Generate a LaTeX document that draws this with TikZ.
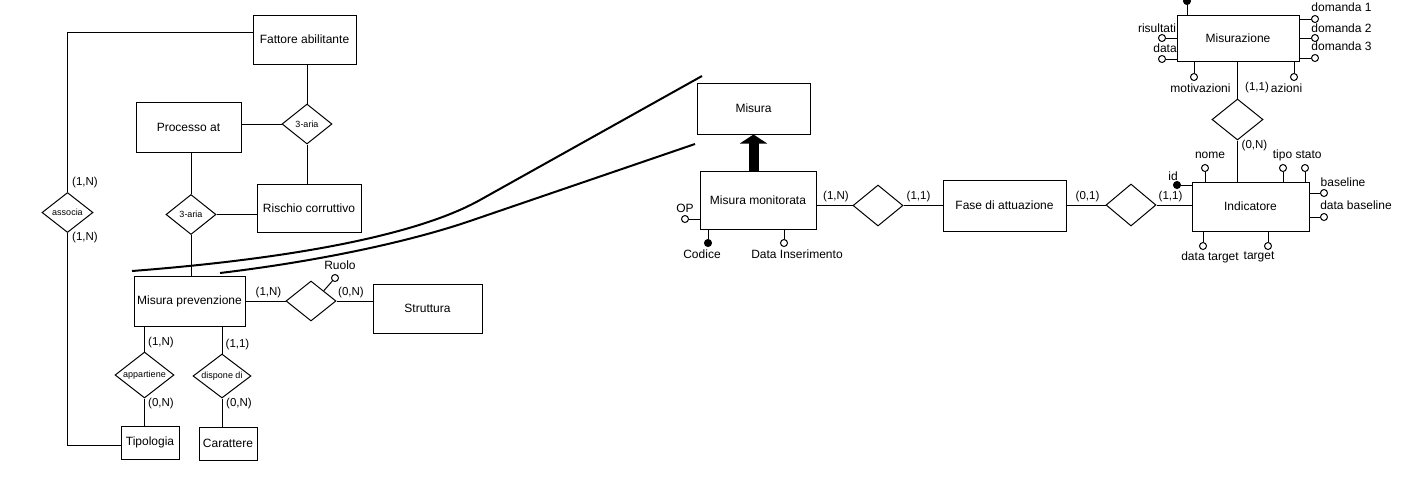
\documentclass[tikz,border=0pt]{standalone}
\usepackage{fontspec}
\setmainfont{Liberation Sans}
\usetikzlibrary{shapes.geometric,arrows.meta}
\tikzset{
 ent/.style={draw, rectangle, line width=1pt, inner sep=0pt, font=\fontsize{12}{14}\selectfont},
 rel/.style={draw, diamond, shape aspect=1.3, inner sep=0pt, line width=1pt, font=\fontsize{9}{10}\selectfont},
 attr/.style={draw, circle, fill=white, inner sep=0pt, minimum size=7pt, line width=1pt},
 keyattr/.style={attr, fill=black},
 lbl/.style={inner sep=0pt, font=\fontsize{12}{14}\selectfont},
 card/.style={inner sep=0pt, font=\fontsize{11.5}{13}\selectfont},
 conn/.style={line width=1pt},
 curveline/.style={line width=2pt, line join=round},
}
\begin{document}
\begin{tikzpicture}[x=1pt,y=-1pt]
\useasboundingbox (0,0) rectangle (1409,491);
% entities
\node[ent, minimum width=103pt, minimum height=49pt] (fattore) at (304.5,39.5) {Fattore abilitante};
\node[ent, minimum width=105pt, minimum height=50pt] (processo) at (188.5,127) {Processo at};
\node[ent, minimum width=104pt, minimum height=48pt] (rischio) at (309,208) {Rischio corruttivo};
\node[ent, minimum width=111pt, minimum height=50pt] (misprev) at (189.5,301) {Misura prevenzione};
\node[ent, minimum width=109pt, minimum height=49pt] (struttura) at (427.5,308.5) {Struttura};
\node[ent, minimum width=58pt, minimum height=33pt] (tipologia) at (150,442.5) {Tipologia};
\node[ent, minimum width=58pt, minimum height=33pt] (carattere) at (228,443.5) {Carattere};
\node[ent, minimum width=113pt, minimum height=51pt] (misura) at (753.5,108.5) {Misura};
\node[ent, minimum width=116pt, minimum height=58pt] (mismon) at (758,200) {Misura monitorata};
\node[ent, minimum width=123pt, minimum height=51pt] (fase) at (1004.5,205.5) {Fase di attuazione};
\node[ent, minimum width=117pt, minimum height=49pt] (indicatore) at (1250.5,206.5) {Indicatore};
\node[ent, minimum width=122pt, minimum height=46pt] (misurazione) at (1238,38) {Misurazione};
% relationships
\node[rel, minimum width=50pt, minimum height=40pt] (tri1) at (307,124) {3-aria};
\node[rel, minimum width=50pt, minimum height=40pt] (tri2) at (191,214.5) {3-aria};
\node[rel, minimum width=51pt, minimum height=40pt] (associa) at (67.5,212.5) {associa};
\node[rel, minimum width=50pt, minimum height=40pt] (rel1) at (311,301) {};
\node[rel, minimum width=59pt, minimum height=46pt] (app) at (144.5,375) {appartiene};
\node[rel, minimum width=58pt, minimum height=44pt] (disp) at (222,376) {dispone di};
\node[rel, minimum width=50pt, minimum height=41pt] (rel2) at (878,205.5) {};
\node[rel, minimum width=50pt, minimum height=42pt] (rel3) at (1131,205) {};
\node[rel, minimum width=51pt, minimum height=41pt] (rel4) at (1237.5,119.5) {};
% connectors
\draw[conn] (tri1.north) -- (tri1.north |- fattore.south);
\draw[conn] (tri1.south) -- (tri1.south |- rischio.north);
\draw[conn] (tri1.west) -- (tri1.west -| processo.east);
\draw[conn] (tri2.north) -- (tri2.north |- processo.south);
\draw[conn] (tri2.east) -- (tri2.east -| rischio.west);
\draw[conn] (tri2.south) -- (tri2.south |- misprev.north);
\draw[conn] (associa.north) |- ([yshift=7.5pt]fattore.west);
\draw[conn] (associa.south) |- ([yshift=-2.5pt]tipologia.west);
\draw[conn] (misprev.east) -- (rel1.west);
\draw[conn] (rel1.east) -- (rel1.east -| struttura.west);
\draw[conn] (app.north) -- (app.north |- misprev.south);
\draw[conn] (disp.north) -- (disp.north |- misprev.south);
\draw[conn] (app.south) -- (app.south |- tipologia.north);
\draw[conn] (disp.south) -- (disp.south |- carattere.north);
\draw[conn] (rel2.west) -- (rel2.west -| mismon.east);
\draw[conn] (rel2.east) -- (rel2.east -| fase.west);
\draw[conn] (rel3.west) -- (rel3.west -| fase.east);
\draw[conn] (rel3.east) -- (rel3.east -| indicatore.west);
\draw[conn] (rel4.north) -- (rel4.north |- misurazione.south);
\draw[conn] (rel4.south) -- (rel4.south |- indicatore.north);
% generalization arrow
\draw[line width=10pt, -{Triangle[width=27pt,length=9pt]}] (misura.south |- mismon.north) -- (misura.south);
% curves
\draw[curveline] (132,271) .. controls (300,258) and (420,233.6) .. (480,200) -- (702,76);
\draw[curveline] (220,273) .. controls (320,261) and (410,241.5) .. (470,221) -- (695,144);
% attributes of Misura monitorata
\node[attr] (op) at (685,219) {};
\draw[conn] (op) -- (op -| mismon.west);
\node[lbl] (opL) at (685,208) {OP};
\node[keyattr] (codice) at (708,243) {};
\draw[conn] (codice) -- (codice |- mismon.south);
\node[lbl] (codiceL) at (702,254) {Codice};
\node[attr] (datains) at (784,243) {};
\draw[conn] (datains) -- (datains |- mismon.south);
\node[lbl] (datainsL) at (797,254) {Data Inserimento};
% Ruolo
\node[attr] (ruolo) at (335,278) {};
\draw[conn] (ruolo) -- (rel1.north east);
\node[lbl] (ruoloL) at (340,265) {Ruolo};
% attributes of Indicatore
\node[keyattr] (id) at (1177,185) {};
\draw[conn] (id) -- (id -| indicatore.west);
\node[lbl] (idL) at (1173,176) {id};
\node[attr] (nome) at (1205,168) {};
\draw[conn] (nome) -- (nome |- indicatore.north);
\node[lbl] (nomeL) at (1210,155) {nome};
\node[attr] (tipo) at (1283,168) {};
\draw[conn] (tipo) -- (tipo |- indicatore.north);
\node[lbl] (tipoL) at (1282.5,155) {tipo};
\node[attr] (stato) at (1305,168) {};
\draw[conn] (stato) -- (stato |- indicatore.north);
\node[lbl] (statoL) at (1308.5,155) {stato};
\node[attr] (baseline) at (1324,193) {};
\draw[conn] (baseline) -- (baseline -| indicatore.east);
\node[lbl] (baselineL) at (1343,182) {baseline};
\node[attr] (databaseline) at (1324,217) {};
\draw[conn] (databaseline) -- (databaseline -| indicatore.east);
\node[lbl] (databaselineL) at (1356,205) {data baseline};
\node[attr] (datatarget) at (1203,246) {};
\draw[conn] (datatarget) -- (datatarget |- indicatore.south);
\node[lbl] (datatargetL) at (1210,257) {data target};
\node[attr] (target) at (1268,246) {};
\draw[conn] (target) -- (target |- indicatore.south);
\node[lbl] (targetL) at (1259,257) {target};
% attributes of Misurazione
\node[keyattr] (mtop) at (1187,1) {};
\draw[conn] (mtop) -- (mtop |- misurazione.north);
\node[attr] (risultati) at (1162,38) {};
\draw[conn] (risultati) -- (risultati -| misurazione.west);
\node[lbl] (risultatiL) at (1157,28) {risultati};
\node[attr] (data) at (1162,59) {};
\draw[conn] (data) -- (data -| misurazione.west);
\node[lbl] (dataL) at (1165,48.5) {data};
\node[attr] (d1) at (1315,19) {};
\draw[conn] (d1) -- (d1 -| misurazione.east);
\node[attr] (d2) at (1315,38) {};
\draw[conn] (d2) -- (d2 -| misurazione.east);
\node[attr] (d3) at (1315,58) {};
\draw[conn] (d3) -- (d3 -| misurazione.east);
\node[lbl] (d1L) at (1341.5,7) {domanda 1};
\node[lbl] (d2L) at (1341.5,28) {domanda 2};
\node[lbl] (d3L) at (1341.5,46) {domanda 3};
\node[attr] (motiv) at (1194,77) {};
\draw[conn] (motiv) -- (motiv |- misurazione.south);
\node[lbl] (motivL) at (1200.5,88) {motivazioni};
\node[attr] (azioni) at (1294,77) {};
\draw[conn] (azioni) -- (azioni |- misurazione.south);
\node[lbl] (azioniL) at (1286.5,88) {azioni};
% cardinalities
\node[card] (c1) at (85,183) {(1,N)};
\node[card] (c2) at (85,238) {(1,N)};
\node[card] (c3) at (268.5,292.5) {(1,N)};
\node[card] (c4) at (351,292.5) {(0,N)};
\node[card] (c5) at (161,343) {(1,N)};
\node[card] (c6) at (161,404) {(0,N)};
\node[card] (c7) at (237.5,345) {(1,1)};
\node[card] (c8) at (239,404) {(0,N)};
\node[card] (c9) at (836,197) {(1,N)};
\node[card] (c10) at (918.5,197) {(1,1)};
\node[card] (c11) at (1087.5,197) {(0,1)};
\node[card] (c12) at (1170.5,197) {(1,1)};
\node[card] (c13) at (1257,88) {(1,1)};
\node[card] (c14) at (1254.5,145.5) {(0,N)};
\end{tikzpicture}
\end{document}
